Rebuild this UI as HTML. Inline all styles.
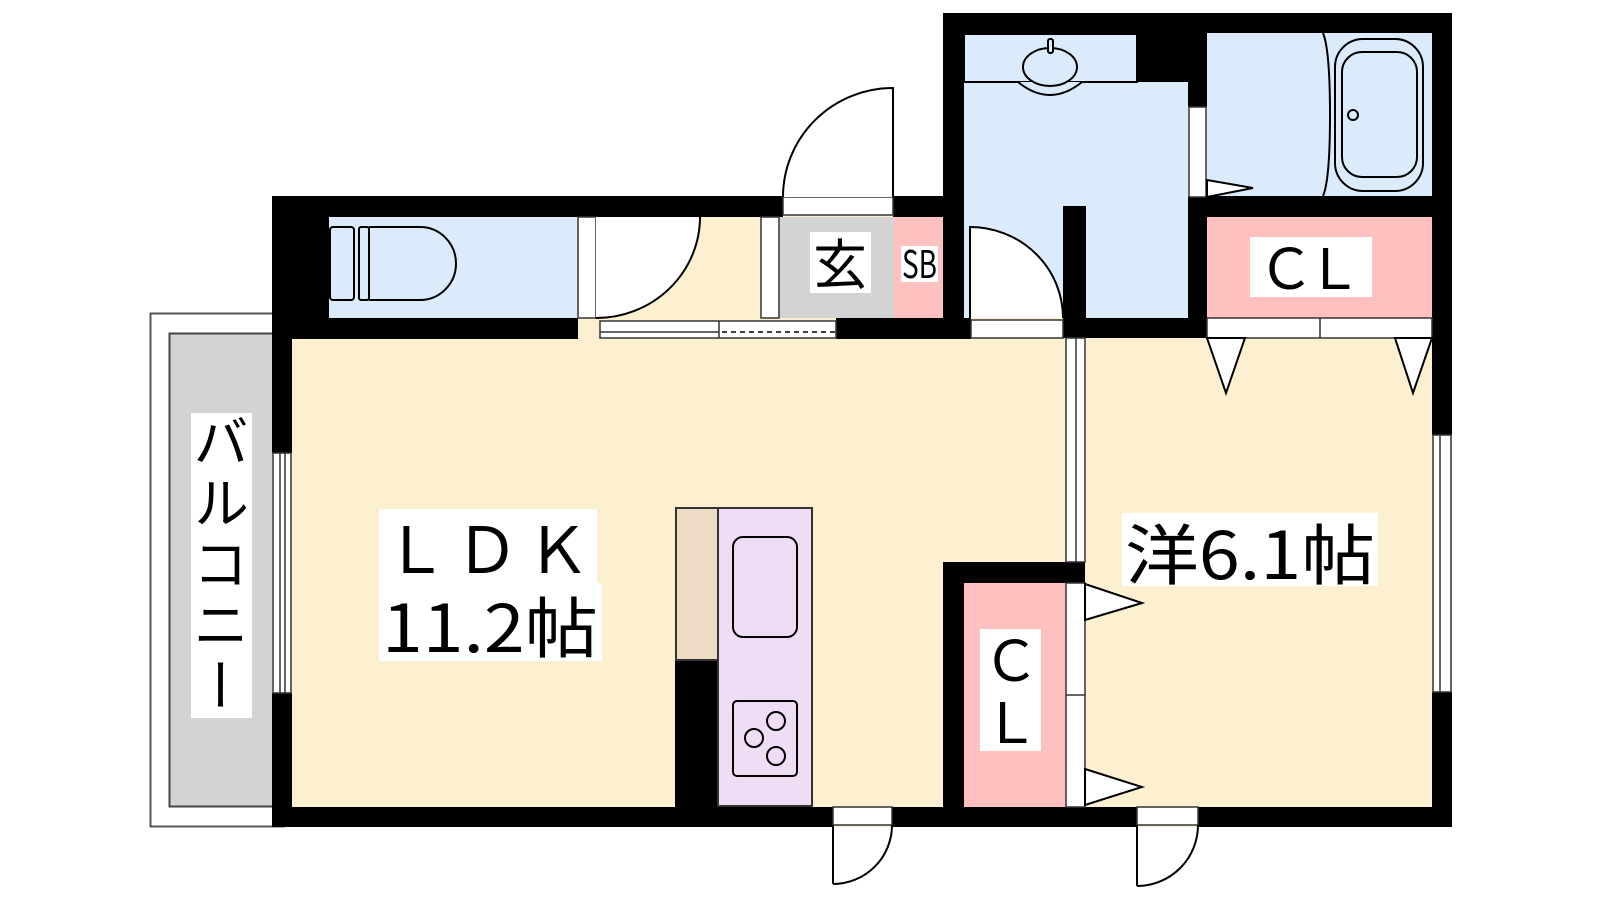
<!DOCTYPE html>
<html><head><meta charset="utf-8"><style>
html,body{margin:0;padding:0;background:#fff;}
svg{display:block;}
text{font-family:"Noto Sans CJK JP","Liberation Sans",sans-serif;fill:#000;}
</style></head><body>
<svg width="1600" height="900" viewBox="0 0 1600 900" xmlns="http://www.w3.org/2000/svg">
<!-- balcony -->
<rect x="150.5" y="313.5" width="133" height="513" fill="#fff" stroke="#555" stroke-width="2"/>
<rect x="169.5" y="333.5" width="104" height="473" fill="#d3d3d3" stroke="#444" stroke-width="2"/>
<rect x="191" y="413" width="61" height="305" fill="#fff"/>
<text x="221" y="413" font-size="56" style="writing-mode:vertical-rl" textLength="300" lengthAdjust="spacing">バルコニー</text>

<!-- floor fills -->
<rect x="272" y="196" width="1180" height="631" fill="#fdf0d1"/>
<rect x="329" y="217" width="249" height="101" fill="#dcebfc"/>
<rect x="779" y="217" width="115" height="101" fill="#d3d3d3"/>
<rect x="894" y="217" width="49" height="101" fill="#ffc0c0"/>
<rect x="964" y="33" width="224" height="285" fill="#dcebfc"/>
<rect x="1207" y="33" width="225" height="163" fill="#dcebfc"/>
<rect x="1207" y="217" width="225" height="101" fill="#ffc0c0"/>
<rect x="964" y="583" width="102" height="224" fill="#ffc0c0"/>
<rect x="1040" y="13" width="0" height="0"/>

<!-- walls -->
<g fill="#000">
<rect x="272" y="196" width="511" height="21"/>
<rect x="893" y="196" width="50" height="21"/>
<rect x="272" y="196" width="57" height="143"/>
<rect x="272" y="196" width="20" height="257"/>
<rect x="272" y="693" width="20" height="134"/>
<rect x="272" y="318" width="306" height="21"/>
<rect x="836" y="318" width="135" height="21"/>
<rect x="1063" y="206" width="23" height="132"/>
<rect x="1086" y="318" width="121" height="20"/>
<rect x="943" y="13" width="21" height="325"/>
<rect x="943" y="13" width="509" height="20"/>
<rect x="1137" y="33" width="51" height="49"/>
<rect x="1188" y="33" width="19" height="74"/>
<rect x="1188" y="197" width="19" height="141"/>
<rect x="1188" y="196" width="264" height="21"/>
<rect x="1432" y="13" width="20" height="422"/>
<rect x="1432" y="692" width="20" height="135"/>
<rect x="272" y="807" width="561" height="20"/>
<rect x="892" y="807" width="245" height="20"/>
<rect x="1198" y="807" width="254" height="20"/>
<rect x="943" y="562" width="142" height="21"/>
<rect x="943" y="562" width="21" height="245"/>
<rect x="675" y="660" width="44" height="147"/>
</g>

<!-- windows / frames -->
<g fill="#fff" stroke="#333" stroke-width="1.5">
<rect x="273" y="453" width="18" height="240"/>
<line x1="280" y1="453" x2="280" y2="693"/><line x1="285" y1="453" x2="285" y2="693"/>
<rect x="1433" y="435" width="18" height="257"/>
<line x1="1440" y1="435" x2="1440" y2="692"/>
<rect x="1066" y="338" width="19" height="224"/>
<line x1="1076" y1="338" x2="1076" y2="562"/>
<rect x="783" y="197" width="110" height="18"/>
<rect x="578" y="217" width="18" height="101"/>
<rect x="761" y="217" width="18" height="101"/>
<rect x="600" y="321" width="236" height="17"/>
<line x1="600" y1="332" x2="719" y2="332"/>
<line x1="719" y1="321" x2="719" y2="338"/>
<rect x="971" y="320" width="92" height="18"/>
<rect x="1189" y="107" width="17" height="90"/>
<rect x="1207" y="318" width="225" height="20"/>
<line x1="1320" y1="318" x2="1320" y2="338"/>
<rect x="1066" y="583" width="19" height="224"/>
<line x1="1066" y1="695" x2="1085" y2="695"/>
<rect x="833" y="807" width="59" height="18"/>
<rect x="1137" y="807" width="61" height="18"/>
</g>
<line x1="722" y1="332" x2="836" y2="332" stroke="#000" stroke-width="1.5" stroke-dasharray="5,4"/>

<!-- doors -->
<g fill="#fff" stroke="#000" stroke-width="2">
<path d="M893,197 L893,88 A110,109 0 0 0 783,197 Z" stroke="none"/>
<path d="M893,197 L893,88 A110,109 0 0 0 783,197" fill="none"/>
<path d="M596,217 L700,217 A104,101 0 0 1 596,318 Z" stroke="none"/>
<path d="M700,217 A104,101 0 0 1 596,318" fill="none"/>
<path d="M970,318 L970,227 A93,91 0 0 1 1063,318 Z" stroke="none"/>
<path d="M970,318 L970,227 A93,91 0 0 1 1063,318" fill="none"/>
<path d="M892,825 A59,59 0 0 1 833,884" fill="none"/>
<line x1="833" y1="825" x2="833" y2="884"/>
<path d="M1198,825 A61,61 0 0 1 1137,886" fill="none"/>
<line x1="1137" y1="825" x2="1137" y2="886"/>
<polygon points="1207,180 1253,188 1207,197"/>
<polygon points="1207,338 1245,338 1226,393"/>
<polygon points="1395,338 1432,338 1413,393"/>
<polygon points="1085,584 1142,603 1085,620"/>
<polygon points="1085,769 1142,787 1085,805"/>
</g>

<!-- fixtures -->
<g fill="none" stroke="#000" stroke-width="2">
<rect x="330" y="227" width="24" height="73" rx="3"/>
<rect x="359" y="227" width="10" height="73" rx="2"/>
<path d="M369,227 H420 A36,36.5 0 0 1 420,300 H369"/>
<rect x="964" y="34" width="173" height="48" fill="#dcebfc"/>
<path d="M1018,82 Q1050,108 1082,82" fill="#dcebfc"/>
<ellipse cx="1050" cy="67" rx="27" ry="19" fill="#dcebfc"/>
<rect x="1048" y="39" width="5" height="14" rx="2" fill="#dcebfc"/>
<path d="M1323,33 Q1330,50 1330,115 Q1330,180 1323,196"/>
<rect x="1335" y="39" width="88" height="152" rx="28"/>
<rect x="1342" y="52" width="75" height="125" rx="20"/>
<circle cx="1353" cy="115" r="5"/>
</g>
<!-- kitchen -->
<rect x="676" y="508" width="42" height="152" fill="#eeddc4" stroke="#333" stroke-width="2"/>
<rect x="718" y="508" width="94" height="298" fill="#eeddf5" stroke="#333" stroke-width="2"/>
<g fill="none" stroke="#000" stroke-width="2">
<rect x="733" y="537" width="64" height="100" rx="10"/>
<rect x="733" y="701" width="64" height="75" rx="4"/>
<circle cx="776" cy="721" r="9"/>
<circle cx="754" cy="738" r="9"/>
<circle cx="776" cy="756" r="9"/>
</g>

<!-- labels -->
<rect x="810" y="232" width="61" height="61" fill="#fff"/>
<text x="840" y="284" font-size="54" text-anchor="middle">玄</text>
<rect x="901" y="246" width="37" height="36" fill="#fff"/>
<text x="902" y="278" font-size="38" textLength="35" lengthAdjust="spacingAndGlyphs">SB</text>
<rect x="1250" y="237" width="122" height="60" fill="#fff"/>
<text x="1258" y="289" font-size="56" textLength="104" lengthAdjust="spacing">ＣＬ</text>
<rect x="980" y="629" width="61" height="122" fill="#fff"/>
<text x="1011" y="681" font-size="56" text-anchor="middle">Ｃ</text>
<text x="1011" y="743" font-size="56" text-anchor="middle">Ｌ</text>
<rect x="379" y="509" width="218" height="74" fill="#fff"/>
<text x="384" y="573" font-size="64" textLength="206" lengthAdjust="spacing">ＬＤＫ</text>
<rect x="379" y="583" width="223" height="78" fill="#fff"/>
<text x="382" y="652" font-size="66" textLength="216" lengthAdjust="spacingAndGlyphs">11.2帖</text>
<rect x="1122" y="513" width="256" height="73" fill="#fff"/>
<text x="1125" y="579" font-size="66" textLength="250" lengthAdjust="spacingAndGlyphs">洋6.1帖</text>
</svg>
</body></html>
